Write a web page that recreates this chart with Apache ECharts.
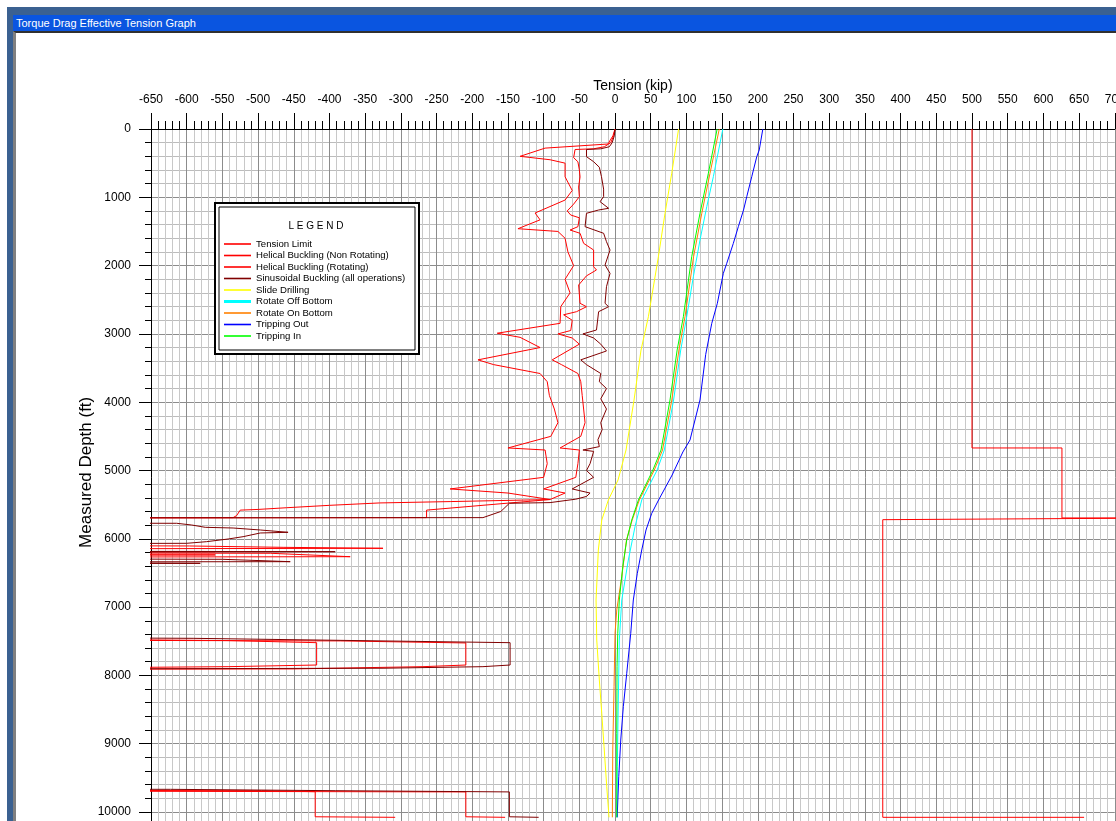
<!DOCTYPE html>
<html>
<head>
<meta charset="utf-8">
<title>Torque Drag Effective Tension Graph</title>
<script src="https://cdn.jsdelivr.net/npm/echarts/dist/echarts.min.js"></script>
<style>
  html, body { margin: 0; padding: 0; width: 1116px; height: 821px; overflow: hidden; background: #ffffff; }
  #frame { position: absolute; left: 7px; top: 7px; width: 1200px; height: 900px; background: #3b6191; }
  #titlebar { position: absolute; left: 13px; top: 15px; width: 1200px; height: 16px; background: #0a55e0;
              color: #ffffff; font: 11px "Liberation Sans", Arial, sans-serif; line-height: 16px; padding-left: 3px; box-sizing: border-box; }
  #client { position: absolute; left: 13px; top: 31px; width: 1200px; height: 900px; background: #ffffff;
            border-top: 2px solid #303030; border-left: 3px solid #808080; box-sizing: border-box; }
  #chart { position: absolute; left: 0; top: 0; width: 1300px; height: 1000px; }
</style>
</head>
<body>
<div id="frame"></div>
<div id="titlebar">Torque Drag Effective Tension Graph</div>
<div id="client"></div>
<div id="chart"></div>
<script>
// Axis ranges (kip across, feet down)
const tensionMin = -650, tensionMax = 700, tensionStep = 50;
const depthMin = 0, depthMax = 10200, depthStep = 1000;

// Each curve is a list of [tension kip, measured depth ft]
const tensionLimit = [
  [500, 0], [500, 4670], [626, 4670], [626, 5695], [780, 5695], [780, 5720],
  [375, 5720], [375, 10078], [657, 10078]
];

const helicalNonRotating = [
  [0, 0], [-3, 100], [-10, 220], [-98, 280], [-133, 400], [-91, 450], [-70, 500], [-70, 700],
  [-60, 900], [-70, 1040], [-112, 1230], [-105, 1330], [-136, 1460], [-80, 1500], [-70, 1600],
  [-66, 1800], [-58, 2000], [-70, 2200], [-63, 2400], [-76, 2600], [-77, 2845], [-165, 2990],
  [-133, 3050], [-105, 3200], [-192, 3380], [-170, 3450], [-105, 3580], [-95, 3700], [-92, 3900],
  [-85, 4100], [-80, 4300], [-90, 4500], [-150, 4670], [-98, 4700], [-95, 4900], [-100, 5100],
  [-231, 5270], [-150, 5330], [-91, 5425], [-230, 5455], [-330, 5475], [-400, 5510],
  [-460, 5545], [-500, 5570], [-525, 5580], [-530, 5660], [-535, 5690], [-1000, 5695],
  [-1000, 6095], [-596, 6105], [-465, 6125], [-325, 6139], [-1000, 6150],
  [-1000, 6205], [-483, 6212], [-371, 6262], [-1000, 6270],
  [-1000, 7450], [-542, 7490], [-418, 7521], [-418, 7848], [-542, 7872], [-1000, 7910],
  [-1000, 9680], [-495, 9688], [-420, 9703], [-420, 10070], [-308, 10078]
];

const helicalRotating = [
  [0, 0], [-2, 100], [-6, 200], [-15, 260], [-30, 290], [-56, 300], [-58, 420], [-52, 480],
  [-50, 600], [-49, 700], [-51, 850], [-50, 991], [-58, 1100], [-67, 1200], [-62, 1260],
  [-50, 1300], [-52, 1430], [-63, 1479], [-49, 1527], [-44, 1674], [-30, 1772], [-30, 2016],
  [-26, 2064], [-40, 2150], [-51, 2284], [-49, 2552], [-40, 2602], [-54, 2675], [-72, 2720],
  [-60, 2800], [-62, 2950], [-80, 3000], [-60, 3060], [-50, 3150], [-88, 3380], [-75, 3450],
  [-52, 3580], [-48, 3700], [-46, 3900], [-44, 4100], [-42, 4300], [-48, 4500], [-77, 4670],
  [-50, 4700], [-52, 4900], [-55, 5100], [-100, 5270], [-70, 5330], [-91, 5425],
  [-264, 5580], [-264, 5690], [-1000, 5697],
  [-1000, 6185], [-560, 6189], [-1000, 6200], [-1000, 6230], [-560, 6236], [-1000, 6240],
  [-1000, 7480], [-385, 7495], [-209, 7525], [-209, 7848], [-269, 7872], [-450, 7905], [-1000, 7915],
  [-1000, 9690], [-209, 9706], [-209, 10070], [-154, 10078]
];

const sinusoidal = [
  [0, 0], [-1, 100], [-4, 200], [-8, 260], [-20, 290], [-40, 300], [-40, 405], [-30, 479],
  [-22, 560], [-19, 698], [-16, 880], [-16, 991], [-21, 1064], [-9, 1161], [-23, 1186],
  [-40, 1234], [-42, 1430], [-16, 1527], [-12, 1650], [-7, 1772], [-14, 1991], [-7, 2113],
  [-12, 2309], [-14, 2552], [-9, 2602], [-23, 2675], [-26, 2943], [-45, 3000], [-30, 3060],
  [-20, 3150], [-12, 3250], [-48, 3380], [-40, 3450], [-20, 3580], [-22, 3700], [-12, 3800],
  [-20, 3950], [-12, 4100], [-20, 4300], [-18, 4400], [-24, 4550], [-22, 4650], [-45, 4700],
  [-30, 4720], [-35, 4900], [-40, 5000], [-30, 5100], [-60, 5270], [-35, 5330], [-40, 5380],
  [-55, 5420], [-91, 5470], [-148, 5480], [-160, 5600], [-185, 5690], [-1000, 5695],
  [-1000, 5770], [-614, 5773], [-593, 5798], [-574, 5832], [-535, 5842], [-497, 5871],
  [-458, 5905], [-497, 5915], [-521, 5969], [-542, 6003], [-572, 6042], [-600, 6066], [-1000, 6075],
  [-1000, 6180], [-580, 6185], [-535, 6187], [-392, 6189], [-1000, 6195],
  [-1000, 6290], [-550, 6300], [-455, 6335], [-1000, 6340],
  [-1000, 6355], [-581, 6359], [-1000, 6362],
  [-1000, 7440], [-591, 7457], [-147, 7521], [-147, 7848], [-185, 7872], [-325, 7895], [-1000, 7910],
  [-1000, 9665], [-623, 9668], [-392, 9688], [-148, 9706], [-148, 10070], [-107, 10078]
];

const slideDrilling = [
  [89, 0], [79.4, 649], [70, 1234], [60.7, 1870], [46.7, 2748], [36.4, 3236], [26.6, 3968],
  [15.4, 4700], [4.2, 5139], [-9.4, 5432], [-18.6, 5725], [-23.4, 6164], [-26.6, 6896],
  [-25.6, 7482], [-22, 8067], [-18.6, 8555], [-15.4, 9044], [-11.6, 9630], [-8.4, 10078]
];

const rotateOffBottom = [
  [151, 0], [137.7, 698], [128.5, 1137], [119, 1626], [109.7, 2162], [100.4, 2748], [92, 3236],
  [82, 3968], [69, 4700], [59, 4993], [37.4, 5432], [28, 5822], [18.6, 6311], [9.4, 6896],
  [6, 7482], [4.6, 8360], [3.2, 9337], [2.8, 10078]
];

const rotateOnBottom = [
  [146, 0], [133, 649], [121.5, 1234], [110, 1870], [98, 2748], [89.5, 3236], [79.5, 3968],
  [66.5, 4700], [55, 4993], [34, 5432], [24, 5725], [16, 6018], [9.4, 6555], [2.4, 7042],
  [0, 7384], [-1.4, 8165], [-3.2, 9092], [-3.8, 10078]
];

const trippingOut = [
  [207, 0], [202, 307], [198.5, 406], [191.5, 698], [184.5, 991], [180, 1186], [172.7, 1430],
  [165.7, 1674], [156.5, 1966], [151.7, 2113], [143.3, 2552], [135.5, 2845], [127, 3300],
  [119, 3968], [105, 4553], [95, 4729], [80, 5066], [61, 5432], [51.4, 5627], [43.4, 5871],
  [37.4, 6164], [31.2, 6505], [25.6, 6896], [22, 7384], [16.4, 7969], [11.6, 8458], [8, 8946],
  [5.2, 9483], [3.2, 10019], [3, 10078]
];

const trippingIn = [
  [143, 0], [130.7, 649], [119, 1234], [107.4, 1870], [95.7, 2748], [87, 3236], [77, 3968],
  [64.4, 4700], [53, 4993], [32.7, 5432], [23.4, 5725], [16.4, 6018], [10.8, 6408], [6, 6896],
  [3.8, 7384], [2.8, 7872], [2.4, 8848], [2.4, 10078]
];

const seriesNames = [
  'Tension Limit', 'Helical Buckling (Non Rotating)', 'Helical Buckling (Rotating)',
  'Sinusoidal Buckling (all operations)', 'Slide Drilling', 'Rotate Off Bottom',
  'Rotate On Bottom', 'Tripping Out', 'Tripping In'
];
const seriesData = [
  tensionLimit, helicalNonRotating, helicalRotating, sinusoidal, slideDrilling,
  rotateOffBottom, rotateOnBottom, trippingOut, trippingIn
];
const seriesColors = [
  '#ff0000', '#ff0000', '#ff0000', '#800000', '#ffff00', '#00ffff', '#ff8000', '#0000ff', '#00ff00'
];

const FONT = '"Liberation Sans", Arial, sans-serif';
const chart = echarts.init(document.getElementById('chart'), null, { renderer: 'canvas' });

// plot area geometry: 0.71391 px per kip, 0.0683 px per ft
const gridLeft = 151, gridTop = 129;
const gridWidth = (tensionMax - tensionMin) * 0.71391;
const gridHeight = (depthMax - depthMin) * 0.0683;

// legend swatches: plain strokes, the off-bottom one drawn heavier
const thinSwatch = 'path://M0,0 L27,0 L27,1.6 L0,1.6 Z';
const thickSwatch = 'path://M0,0 L27,0 L27,3 L0,3 Z';

const option = {
  animation: false,
  backgroundColor: 'transparent',
  textStyle: { fontFamily: FONT },
  grid: { left: gridLeft, top: gridTop, width: gridWidth, height: gridHeight, containLabel: false, outerBoundsMode: 'none' },
  xAxis: {
    type: 'value', position: 'top', min: tensionMin, max: tensionMax, interval: tensionStep,
    name: 'Tension (kip)', nameLocation: 'middle', nameGap: 36, nameMoveOverlap: false,
    nameTextStyle: { fontSize: 14, color: '#000', fontFamily: FONT },
    axisLine: { show: true, onZero: false, lineStyle: { color: '#000', width: 1 } },
    axisTick: { show: true, inside: false, length: 16, lineStyle: { color: '#000', width: 1 } },
    minorTick: { show: true, splitNumber: 5, length: 8, lineStyle: { color: '#000', width: 1 } },
    axisLabel: { margin: 23, fontSize: 12, color: '#000', fontFamily: FONT, formatter: v => String(v) },
    splitLine: { show: true, lineStyle: { color: '#8c8c8c', width: 1 } },
    minorSplitLine: { show: true, lineStyle: { color: '#c8c8c8', width: 1 } }
  },
  yAxis: {
    type: 'value', inverse: true, min: depthMin, max: depthMax, interval: depthStep,
    name: 'Measured Depth (ft)', nameLocation: 'middle', nameGap: 56, nameRotate: 90, nameMoveOverlap: false,
    nameTextStyle: { fontSize: 17, color: '#000', fontFamily: FONT, padding: [0, 0, 0, 10] },
    axisLine: { show: true, onZero: false, lineStyle: { color: '#000', width: 1 } },
    axisTick: { show: true, inside: false, length: 12, lineStyle: { color: '#000', width: 1 } },
    minorTick: { show: true, splitNumber: 5, length: 6, lineStyle: { color: '#000', width: 1 } },
    axisLabel: { margin: 20, fontSize: 12, color: '#000', fontFamily: FONT, showMaxLabel: false, formatter: v => String(v) },
    splitLine: { show: true, lineStyle: { color: '#8c8c8c', width: 1 } },
    minorSplitLine: { show: true, lineStyle: { color: '#bcbcbc', width: 1 } }
  },
  legend: {
    orient: 'vertical', left: 224, top: 239, padding: 0,
    itemWidth: 27, itemHeight: 10, itemGap: 1.5, selectedMode: false, z: 12,
    symbolKeepAspect: true,
    textStyle: { fontSize: 9.6, color: '#000', fontFamily: FONT, padding: 0 },
    data: seriesNames.map((n, i) => ({ name: n, icon: i === 5 ? thickSwatch : thinSwatch }))
  },
  graphic: [
    { type: 'rect', z: 10, shape: { x: 215, y: 203, width: 204, height: 151 },
      style: { fill: '#ffffff', stroke: '#000000', lineWidth: 2 } },
    { type: 'rect', z: 11, shape: { x: 219, y: 207, width: 196, height: 143 },
      style: { fill: 'none', stroke: '#000000', lineWidth: 1 } },
    { type: 'text', z: 11, x: 316, y: 226,
      style: { text: 'L E G E N D', fill: '#000', font: '10px ' + FONT, textAlign: 'center', textVerticalAlign: 'middle' } }
  ],
  series: seriesNames.map((n, i) => ({
    name: n, type: 'line', data: seriesData[i], symbol: 'none', showSymbol: false,
    clip: true, smooth: false, z: 2,
    lineStyle: { color: seriesColors[i], width: 1 },
    itemStyle: { color: seriesColors[i] },
    emphasis: { disabled: true }
  }))
};
chart.setOption(option);
</script>
</body>
</html>
